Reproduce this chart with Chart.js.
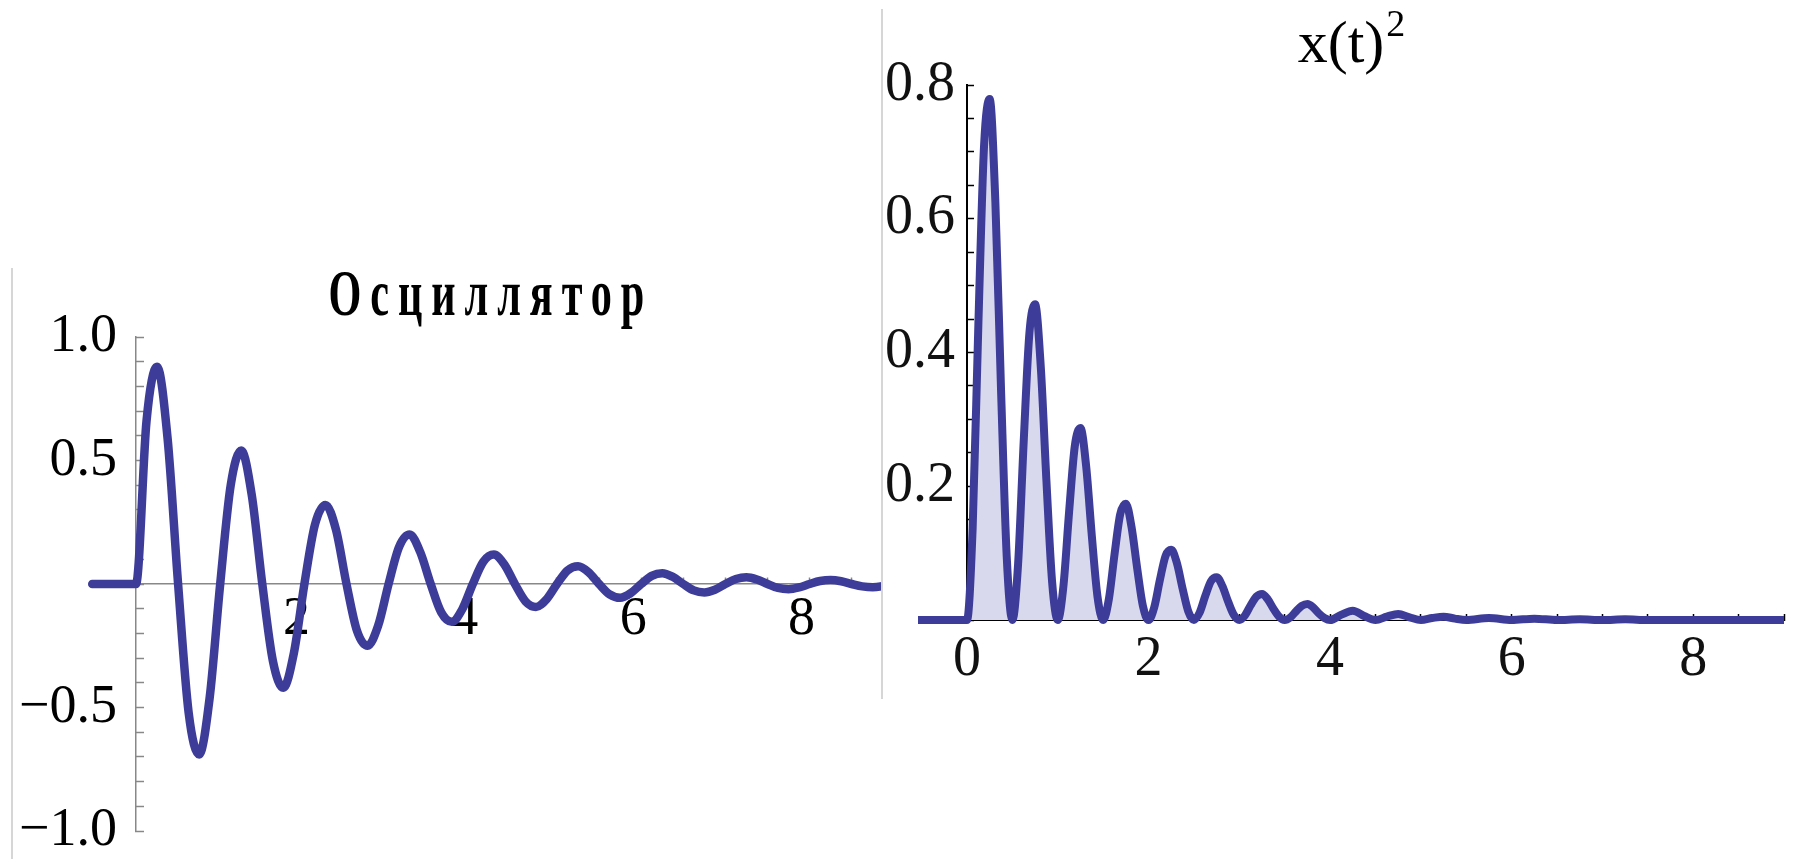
<!DOCTYPE html>
<html>
<head>
<meta charset="utf-8">
<script src="https://cdn.jsdelivr.net/npm/chart.js@4/dist/chart.umd.min.js"></script>
<style>
  html, body { margin: 0; padding: 0; background: #fff; }
  body { width: 1797px; height: 859px; position: relative; overflow: hidden; }
  .panel { position: absolute; top: 0; }
  #leftPanel { left: 0; width: 882px; height: 900px; }
  #rightPanel { left: 882px; width: 915px; height: 900px; background: #fff; }
  .edge { position: absolute; width: 0; border-left: 2px solid #d6d6d6; }
  .title { position: absolute; text-align: center; color: #000; white-space: nowrap; font-family: 'Liberation Serif', serif; }
  #oscTitle { left: 96px; width: 790px; top: 260px; font-weight: bold; font-size: 66px; line-height: 66px; }
  #oscTitle span { display: inline-block; transform: scaleX(0.64); letter-spacing: 14px; }
  #sqTitle { left: 918px; width: 867px; top: 12px; font-size: 60px; line-height: 60px; }
  #sqTitle .sup { font-size: 38px; position: relative; top: -26px; margin-left: 2px; }
</style>
</head>
<body>
<div class="panel" id="leftPanel"><canvas id="osc" width="882" height="900"></canvas></div>
<div class="panel" id="rightPanel"><canvas id="sq" width="915" height="900"></canvas></div>
<div class="edge" style="left:11px; top:268px; height:591px;"></div>
<div class="edge" style="left:881px; top:9px; height:690px;"></div>
<div class="title" id="oscTitle"><span>Осциллятор</span></div>
<div class="title" id="sqTitle">x(t)<span class="sup">2</span></div>

<script>
// left panel: x(t)
const oscTime = [-0.52, 0,
    0.125, 0.25, 0.375, 0.5, 0.625, 0.75, 0.875, 1,
    1.125, 1.25, 1.375, 1.5, 1.625, 1.75, 1.875, 2,
    2.125, 2.25, 2.375, 2.5, 2.625, 2.75, 2.875, 3,
    3.125, 3.25, 3.375, 3.5, 3.625, 3.75, 3.875, 4,
    4.125, 4.25, 4.375, 4.5, 4.625, 4.75, 4.875, 5,
    5.125, 5.25, 5.375, 5.5, 5.625, 5.75, 5.875, 6,
    6.125, 6.25, 6.375, 6.5, 6.625, 6.75, 6.875, 7,
    7.125, 7.25, 7.375, 7.5, 7.625, 7.75, 7.875, 8,
    8.125, 8.25, 8.375, 8.5, 8.625, 8.75, 8.875, 9];
const oscValue = [0, 0,
    0.66, 0.88, 0.59, 0, -0.52, -0.69, -0.46, 0,
    0.40, 0.54, 0.36, 0, -0.31, -0.42, -0.28, 0,
    0.24, 0.32, 0.22, 0, -0.19, -0.25, -0.17, 0,
    0.15, 0.20, 0.13, 0, -0.115, -0.153, -0.102, 0,
    0.09, 0.119, 0.079, 0, -0.07, -0.093, -0.062, 0,
    0.055, 0.072, 0.048, 0, -0.042, -0.056, -0.037, 0,
    0.033, 0.044, 0.029, 0, -0.026, -0.034, -0.023, 0,
    0.02, 0.027, 0.018, 0, -0.016, -0.021, -0.014, 0,
    0.012, 0.016, 0.011, 0, -0.0095, -0.013, -0.0084, 0];
const oscXTicks = [2, 4, 6, 8];
const oscXLabels = ['2', '4', '6', '8'];
const oscYTicks = [-1, -0.5, 0.5, 1];
const oscYLabels = ['\u22121.0', '\u22120.5', '0.5', '1.0'];

// right panel: x(t)^2
const sqTime = [-0.54, 0,
    0.0625, 0.125, 0.1875, 0.25, 0.3125, 0.375, 0.4375, 0.5,
    0.5625, 0.625, 0.6875, 0.75, 0.8125, 0.875, 0.9375, 1,
    1.0625, 1.125, 1.1875, 1.25, 1.3125, 1.375, 1.4375, 1.5,
    1.5625, 1.625, 1.6875, 1.75, 1.8125, 1.875, 1.9375, 2,
    2.0625, 2.125, 2.1875, 2.25, 2.3125, 2.375, 2.4375, 2.5,
    2.5625, 2.625, 2.6875, 2.75, 2.8125, 2.875, 2.9375, 3,
    3.0625, 3.125, 3.1875, 3.25, 3.3125, 3.375, 3.4375, 3.5,
    3.5625, 3.625, 3.6875, 3.75, 3.8125, 3.875, 3.9375, 4,
    4.125, 4.25, 4.375, 4.5, 4.625, 4.75, 4.875, 5,
    5.125, 5.25, 5.375, 5.5, 5.75, 6, 6.25, 6.5, 6.75, 7, 7.25, 7.5, 8, 9];
const sqValue = [0, 0,
    0.138, 0.441, 0.708, 0.779, 0.625, 0.344, 0.095, 0,
    0.083, 0.268, 0.429, 0.472, 0.379, 0.208, 0.057, 0,
    0.051, 0.162, 0.260, 0.287, 0.230, 0.126, 0.035, 0,
    0.031, 0.098, 0.158, 0.174, 0.139, 0.077, 0.021, 0,
    0.019, 0.060, 0.096, 0.105, 0.085, 0.047, 0.013, 0,
    0.011, 0.036, 0.058, 0.064, 0.051, 0.028, 0.008, 0,
    0.007, 0.022, 0.035, 0.039, 0.031, 0.017, 0.005, 0,
    0.004, 0.013, 0.021, 0.024, 0.019, 0.010, 0.003, 0,
    0.008, 0.014, 0.006, 0, 0.005, 0.009, 0.004, 0,
    0.003, 0.005, 0.002, 0, 0.003, 0, 0.002, 0, 0.001, 0, 0.001, 0, 0, 0];
const sqXTicks = [0, 2, 4, 6, 8];
const sqXLabels = ['0', '2', '4', '6', '8'];
const sqYTicks = [0.2, 0.4, 0.6, 0.8];
const sqYLabels = ['0.2', '0.4', '0.6', '0.8'];

const LINE = '#3d3d99';
const FILL = '#d9d9ee';
const SERIF = "'Liberation Serif', 'Times New Roman', serif";

function labelFor(values, labels) {
    return function (v) {
        const i = values.findIndex(t => Math.abs(t - v) < 1e-6);
        return i >= 0 ? labels[i] : '';
    };
}

function points(xs, ys) {
    return xs.map((x, i) => ({ x: x, y: ys[i] }));
}

new Chart(document.getElementById('osc'), {
    type: 'line',
    data: {
        datasets: [{
            data: points(oscTime, oscValue),
            borderColor: LINE,
            borderWidth: 8.5,
            pointRadius: 0,
            fill: false,
            cubicInterpolationMode: 'monotone',
            borderJoinStyle: 'round',
            borderCapStyle: 'round',
            clip: { left: 50, right: 0, top: 15, bottom: 15 }
        }]
    },
    options: {
        responsive: false,
        animation: false,
        events: [],
        layout: { padding: { left: 0, right: 0, top: 337, bottom: 69 } },
        plugins: { legend: { display: false }, tooltip: { enabled: false } },
        scales: {
            x: {
                type: 'linear',
                min: 0,
                max: 8.86,
                position: { y: 0 },
                grid: { drawOnChartArea: false, drawTicks: true, tickLength: -7, color: '#888', tickWidth: 1.5 },
                border: { display: true, color: '#888', width: 1.5 },
                ticks: {
                    stepSize: 0.5,
                    includeBounds: false,
                    autoSkip: false,
                    maxRotation: 0,
                    labelOffset: -8,
                    padding: 10,
                    color: '#000',
                    font: { family: SERIF, size: 54 },
                    callback: labelFor(oscXTicks, oscXLabels)
                }
            },
            y: {
                type: 'linear',
                min: -1,
                max: 1,
                position: 'left',
                afterFit: function (scale) { scale.width = 136; },
                grid: { drawOnChartArea: false, drawTicks: true, tickLength: -8, color: '#888', tickWidth: 1.5 },
                border: { display: true, color: '#888', width: 1.5 },
                ticks: {
                    stepSize: 0.1,
                    autoSkip: false,
                    padding: 27,
                    color: '#000',
                    font: { family: SERIF, size: 54 },
                    callback: labelFor(oscYTicks, oscYLabels)
                }
            }
        }
    }
});

new Chart(document.getElementById('sq'), {
    type: 'line',
    data: {
        datasets: [{
            data: points(sqTime, sqValue),
            borderColor: LINE,
            backgroundColor: FILL,
            borderWidth: 8,
            pointRadius: 0,
            fill: 'origin',
            cubicInterpolationMode: 'monotone',
            borderJoinStyle: 'round',
            borderCapStyle: 'butt',
            clip: { left: 55, right: 0, top: 15, bottom: 10 }
        }]
    },
    options: {
        responsive: false,
        animation: false,
        events: [],
        layout: { padding: { left: 0, right: 12, top: 85, bottom: 0 } },
        plugins: { legend: { display: false }, tooltip: { enabled: false } },
        scales: {
            x: {
                type: 'linear',
                min: 0,
                max: 9,
                position: 'bottom',
                afterFit: function (scale) { scale.height = 280; },
                grid: { drawOnChartArea: false, drawTicks: true, tickLength: -6, color: '#000', tickWidth: 1.5 },
                border: { display: true, color: '#000', width: 2 },
                ticks: {
                    stepSize: 0.5,
                    includeBounds: false,
                    autoSkip: false,
                    maxRotation: 0,
                    padding: 13,
                    color: '#111',
                    font: { family: SERIF, size: 56 },
                    callback: labelFor(sqXTicks, sqXLabels)
                }
            },
            y: {
                type: 'linear',
                min: 0,
                max: 0.8,
                position: 'left',
                afterFit: function (scale) { scale.width = 85; },
                grid: { drawOnChartArea: false, drawTicks: true, tickLength: -7, color: '#000', tickWidth: 1.5 },
                border: { display: true, color: '#000', width: 2 },
                ticks: {
                    stepSize: 0.05,
                    autoSkip: false,
                    padding: 19,
                    color: '#111',
                    font: { family: SERIF, size: 56 },
                    callback: labelFor(sqYTicks, sqYLabels)
                }
            }
        }
    }
});
</script>
</body>
</html>
